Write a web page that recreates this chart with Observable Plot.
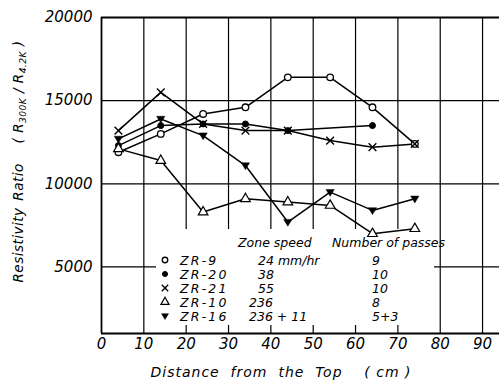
<!DOCTYPE html>
<html><head><meta charset="utf-8">
<script src="https://cdn.jsdelivr.net/npm/d3@7"></script>
<script src="https://cdn.jsdelivr.net/npm/@observablehq/plot@0.6"></script>
<style>
body{margin:0;background:#fff}
svg{display:block}
</style>
</head><body><div id="chart"></div>
<script>
// ---- data ----
const distances = [4, 14, 24, 34, 44, 54, 64, 74];
const seriesNames = ["ZR-9", "ZR-20", "ZR-21", "ZR-10", "ZR-16"];
const zoneSpeeds = ["24 mm/hr", "38", "55", "236", "236 + 11"];
const passes = ["9", "10", "10", "8", "5+3"];
const zr9  = [11900, 13000, 14200, 14600, 16400, 16400, 14600, 12400];
const zr20 = [12300, 13500, 13600, 13600, 13200, null, 13500, null];
const zr21 = [13200, 15500, 13600, 13200, 13200, 12600, 12200, 12400];
const zr10 = [12100, 11400, 8300, 9100, 8900, 8700, 7000, 7300];
const zr16 = [12700, 13900, 12900, 11100, 7700, 9500, 8400, 9100];
const xTicks = [0, 10, 20, 30, 40, 50, 60, 70, 80, 90];
const yTicks = [5000, 10000, 15000, 20000];
const yGrid = [5000, 10000, 15000];

const seriesValues = [zr9, zr20, zr21, zr10, zr16];
const data = seriesNames.flatMap((name, i) =>
  distances.map((x, j) => ({name, x, y: seriesValues[i][j]})).filter(d => d.y != null));

// ---- styles ----
const triDown = {
  draw(ctx, size) {
    const r = Math.sqrt(size / Math.PI) * 1.15;
    ctx.moveTo(-r, -r * 0.65);
    ctx.lineTo(r, -r * 0.65);
    ctx.lineTo(0, r * 1.0);
    ctx.closePath();
  }
};
const markerStyles = {
  "ZR-9":  {symbol: "circle", fill: "white", stroke: "black", r: 3.3, strokeWidth: 1.3},
  "ZR-20": {symbol: "circle", fill: "black", stroke: "black", r: 3.0, strokeWidth: 1},
  "ZR-21": {symbol: "times", fill: "none", stroke: "black", r: 3.6, strokeWidth: 1.4},
  "ZR-10": {symbol: "triangle", fill: "white", stroke: "black", r: 3.6, strokeWidth: 1.2},
  "ZR-16": {symbol: triDown, fill: "black", stroke: "black", r: 3.6, strokeWidth: 0.5}
};

const font = "DejaVu Sans";
const plot = Plot.plot({
  width: 499,
  height: 380,
  marginLeft: 101,
  marginRight: 0,
  marginTop: 17,
  marginBottom: 47,
  x: {domain: [0, 94], axis: null},
  y: {domain: [1000, 20000], axis: null},
  style: {fontFamily: font, fontStyle: "italic", background: "white", color: "black"},
  marks: [
    Plot.gridX(xTicks.filter(t => t > 0), {stroke: "black", strokeOpacity: 1, strokeWidth: 1.2}),
    Plot.gridY(yGrid, {stroke: "black", strokeOpacity: 1, strokeWidth: 1.2}),
    Plot.ruleX([0], {stroke: "black", strokeWidth: 1.8}),
    Plot.ruleY([1000, 20000], {stroke: "black", strokeWidth: 1.8}),
    Plot.axisX(xTicks, {tickSize: 0, tickPadding: 5, fontSize: 15, label: null, tickFormat: d => String(d)}),
    Plot.axisY(yTicks, {tickSize: 0, tickPadding: 9, fontSize: 15, label: null, tickFormat: d => String(d)}),
    Plot.line(data, {x: "x", y: "y", z: "name", stroke: "black", strokeWidth: 1.5}),
    ...seriesNames.map(n => Plot.dot(data.filter(d => d.name === n), {x: "x", y: "y", ...markerStyles[n]}))
  ]
});
document.getElementById("chart").appendChild(plot);

const svg = d3.select(plot);
// white patch behind the key (breaks the grid as in the original)
svg.insert("rect", 'g[aria-label="line"]')
  .attr("x", 156).attr("y", 229).attr("width", 278).attr("height", 96).attr("fill", "white");

// key
const kx = 165, ky0 = 260, kdy = 14;
const g = svg.append("g").attr("font-family", font).attr("font-style", "italic")
  .attr("fill", "black").attr("text-anchor", "start");
g.append("text").attr("x", 238).attr("y", 247).attr("font-size", 12.5).text("Zone speed");
g.append("text").attr("x", 332).attr("y", 247).attr("font-size", 12.5).text("Number of passes");
const speedX = [258, 258, 258, 249, 249];
seriesNames.forEach((n, i) => {
  const y = ky0 + i * kdy;
  const st = markerStyles[n];
  const sym = typeof st.symbol === "string" ? {circle: d3.symbolCircle, times: d3.symbolTimes, triangle: d3.symbolTriangle}[st.symbol] : st.symbol;
  g.append("path")
    .attr("transform", `translate(${kx},${y})`)
    .attr("d", d3.symbol(sym, st.r * st.r * Math.PI * 0.7)())
    .attr("fill", st.fill).attr("stroke", st.stroke).attr("stroke-width", st.strokeWidth);
  g.append("text").attr("x", 180).attr("y", y + 4.5).attr("font-size", 12.5).attr("letter-spacing", 2.2).text(n);
  g.append("text").attr("x", speedX[i]).attr("y", y + 4.5).attr("font-size", 12.5).text(zoneSpeeds[i]);
  g.append("text").attr("x", 372).attr("y", y + 4.5).attr("font-size", 12.5).text(passes[i]);
});

// x-axis title
svg.append("text").attr("x", 281).attr("y", 377).attr("text-anchor", "middle")
  .attr("font-family", font).attr("font-style", "italic").attr("font-size", 14)
  .attr("letter-spacing", 1).style("white-space", "pre")
  .text("Distance  from  the  Top    ( cm )");

// y-axis title (rotated pieces)
const yt = svg.append("g").attr("font-family", font).attr("font-style", "italic")
  .attr("font-size", 13.5).attr("letter-spacing", 0.5).attr("text-anchor", "middle");
yt.append("text").attr("transform", "translate(23,245) rotate(-90)").text("Resistivity");
yt.append("text").attr("transform", "translate(23,182) rotate(-90)").text("Ratio");
const pt = yt.append("text").attr("transform", "translate(23,92) rotate(-90)").style("white-space", "pre");
pt.append("tspan").text("( R");
pt.append("tspan").attr("font-size", 9).attr("dy", 3).text("300K");
pt.append("tspan").attr("dy", -3).text(" / R");
pt.append("tspan").attr("font-size", 9).attr("dy", 3).text("4.2K");
pt.append("tspan").attr("dy", -3).text(" )");
</script>
</body></html>
